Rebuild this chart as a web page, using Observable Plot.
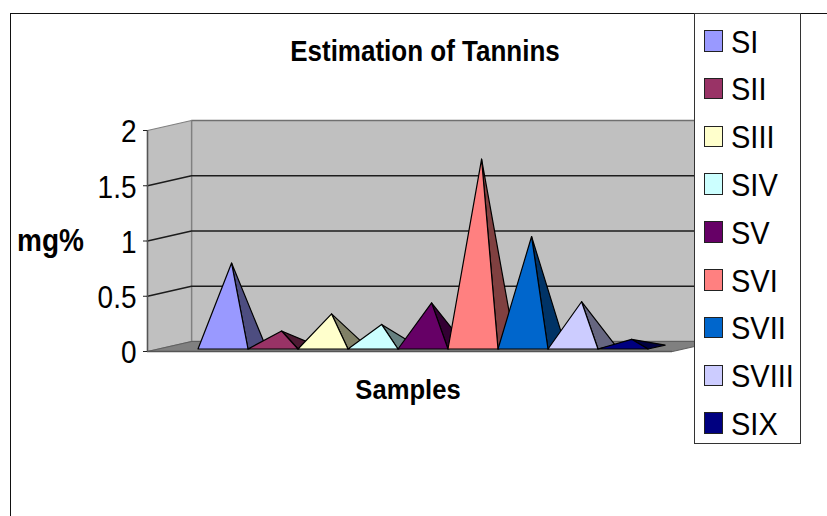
<!DOCTYPE html>
<html>
<head>
<meta charset="utf-8">
<script src="https://cdn.jsdelivr.net/npm/d3@7"></script>
<script src="https://cdn.jsdelivr.net/npm/@observablehq/plot@0.6"></script>
<style>
  html, body { margin: 0; padding: 0; background: #fff; }
  #page { position: relative; width: 827px; height: 516px; overflow: hidden; font-family: "Liberation Sans", Arial, sans-serif; color: #000; }
  #page svg { position: absolute; left: 0; top: 0; }
  .frame { position: absolute; left: 10px; top: 12.5px; width: 830px; height: 520px; border: 1.5px solid #111; box-sizing: border-box; }
  .lbl { position: absolute; font-weight: bold; white-space: nowrap; line-height: 1; }
  #title { left: 425px; top: 37.8px; font-size: 26px; transform: translateX(-50%) scaleY(1.1); }
  #ylab { left: 17px; top: 227px; font-size: 28px; transform: scaleY(1.1); }
  #xlab { left: 408px; top: 377.4px; font-size: 25.6px; transform: translateX(-50%) scaleY(1.1); }
  #legend { position: absolute; left: 694px; top: 13px; width: 107px; height: 431px; background: #fff; border: 1.5px solid #333; box-sizing: border-box; }
  .row { position: absolute; left: 0; height: 30px; white-space: nowrap; }
  .sw { position: absolute; left: 8.5px; top: 4.5px; width: 19px; height: 21.5px; border: 1.2px solid #222; box-sizing: border-box; }
  .tx { position: absolute; left: 36px; top: 1px; font-size: 29px; line-height: 30px; transform: scaleY(1.1); }
</style>
</head>
<body>
<div id="page"><div class="frame"></div></div>
<script>
const samples = ["SI", "SII", "SIII", "SIV", "SV", "SVI", "SVII", "SVIII", "SIX"];
const tannins = [0.76, 0.145, 0.30, 0.205, 0.40, 1.70, 1.0, 0.41, 0.07];
const frontColors = ["#9999ff", "#993366", "#ffffcc", "#ccffff", "#660066", "#ff8080", "#0066cc", "#ccccff", "#000080"];
const sideColors = ["#4d4d80", "#4d1a33", "#808066", "#668080", "#330033", "#804040", "#003366", "#666680", "#000040"];
const yTicks = [0, 0.5, 1, 1.5, 2];

// Oblique 3D projection in data units: depth d in [0,1] shifts both scales.
const categorySpan = 10.5, maxValue = 2;
const depthX = 0.88, depthY = 0.0906;
const firstBase = 0.79, depthFront = 0.25, depthBack = 0.64;
const pt = (u, d, v) => ({x: u + depthX * d, y: v + depthY * d});
const poly = (points, options) => Plot.line([...points, points[0]], {x: "x", y: "y", ...options});

const wallMarks = [
  poly([pt(0, 1, 0), pt(categorySpan, 1, 0), pt(categorySpan, 1, maxValue), pt(0, 1, maxValue)],
       {fill: "#c0c0c0", stroke: "#707070", strokeWidth: 1.5}),
  poly([pt(0, 0, 0), pt(0, 1, 0), pt(0, 1, maxValue), pt(0, 0, maxValue)],
       {fill: "#c0c0c0", stroke: "#808080", strokeWidth: 1.2}),
  poly([pt(0, 0, 0), pt(categorySpan, 0, 0), pt(categorySpan, 1, 0), pt(0, 1, 0)],
       {fill: "#808080", stroke: "#606060", strokeWidth: 1.2})
];

const gridMarks = yTicks.filter(v => v > 0 && v < maxValue).map(v =>
  Plot.line([pt(0, 0, v), pt(0, 1, v), pt(categorySpan, 1, v)],
            {x: "x", y: "y", stroke: "#1c1c1c", strokeWidth: 1.5}));

const pyramidMarks = samples.flatMap((name, i) => {
  const left = firstBase + i, right = left + 1, mid = left + 0.5, depthMid = (depthFront + depthBack) / 2;
  const apex = pt(mid, depthMid, tannins[i]);
  const style = {stroke: "#000", strokeWidth: 1.2, strokeLinejoin: "round"};
  return [
    poly([pt(right, depthFront, 0), pt(right, depthBack, 0), apex], {fill: sideColors[i], ...style}),
    poly([pt(left, depthFront, 0), pt(right, depthFront, 0), apex], {fill: frontColors[i], ...style})
  ];
});

const chart = Plot.plot({
  width: 827,
  height: 516,
  marginLeft: 147,
  marginRight: 155,
  marginTop: 130,
  marginBottom: 165,
  style: {background: "transparent", fontFamily: "'Liberation Sans', Arial, sans-serif", color: "#000", overflow: "visible"},
  x: {domain: [0, categorySpan], axis: null},
  y: {domain: [0, maxValue], axis: null},
  marks: [
    ...wallMarks,
    ...gridMarks,
    Plot.ruleY([0], {x1: 0, x2: categorySpan, stroke: "#555", strokeWidth: 1.5}),
    Plot.ruleX([0], {y1: 0, y2: maxValue, stroke: "#555", strokeWidth: 1.5}),
    ...pyramidMarks,
    Plot.axisY({ticks: yTicks, tickFormat: String, tickSize: 4, tickPadding: 7, fontSize: 28, label: null, stroke: "#222"})
  ]
});
const page = document.getElementById("page");
page.appendChild(chart);
// The reference's text is stretched a little vertically and sits just below its tick.
d3.select(chart).selectAll('[aria-label="y-axis tick label"] text').each(function () {
  const t = this.getAttribute("transform") || "";
  this.setAttribute("transform", t + " translate(0,2) scale(1,1.1)");
});

for (const [id, text] of [["title", "Estimation of Tannins"], ["ylab", "mg%"], ["xlab", "Samples"]]) {
  const el = document.createElement("div");
  el.id = id; el.className = "lbl"; el.textContent = text;
  page.appendChild(el);
}
const legend = document.createElement("div");
legend.id = "legend";
samples.forEach((name, i) => {
  const row = document.createElement("div");
  row.className = "row";
  row.style.top = (11.5 + i * 47.8) + "px";
  const sw = document.createElement("span");
  sw.className = "sw"; sw.style.background = frontColors[i];
  const tx = document.createElement("span");
  tx.className = "tx"; tx.textContent = name;
  row.append(sw, tx);
  legend.appendChild(row);
});
page.appendChild(legend);
</script>
</body>
</html>
